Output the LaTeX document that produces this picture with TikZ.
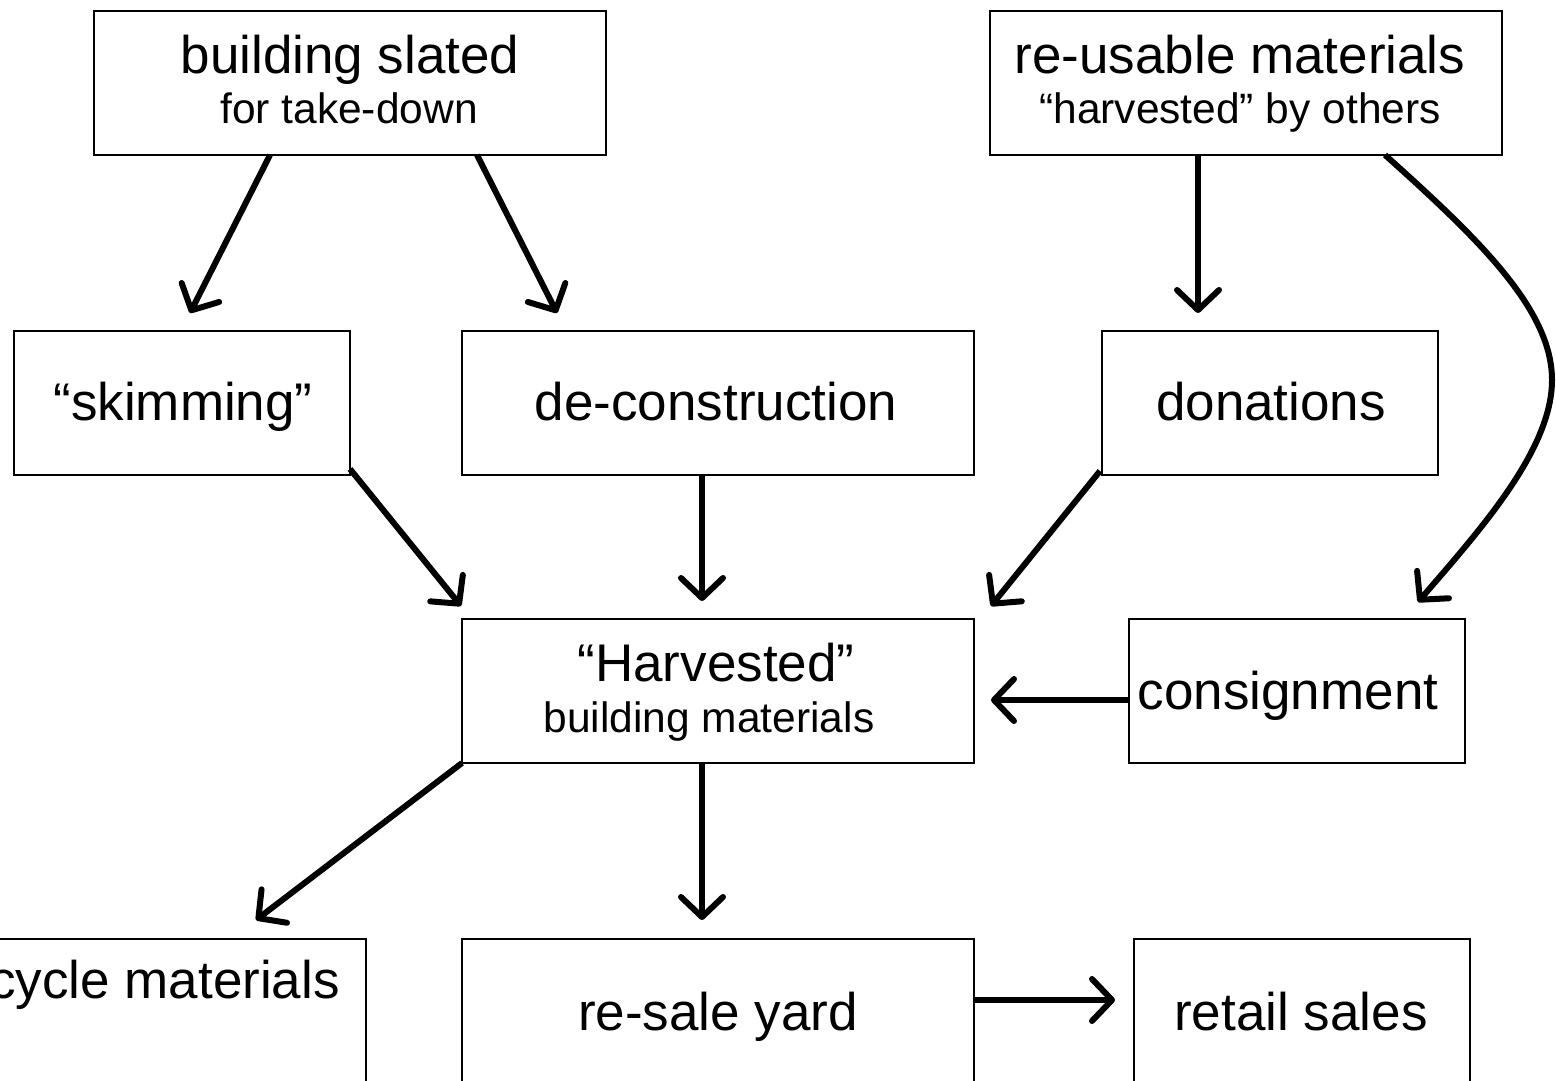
\documentclass[tikz,border=0pt]{standalone}
\usepackage{fontspec}
\setmainfont{Liberation Sans}
\usetikzlibrary{arrows.meta}
\begin{document}
\begin{tikzpicture}[x=1pt,y=-1pt,
  box/.style={draw, line width=2.5pt, minimum width=#1, minimum height=144pt, inner sep=0pt, outer sep=0pt},
  box/.default=336pt,
  tallbox/.style={draw, line width=2.5pt, minimum width=#1, minimum height=200pt, inner sep=0pt, outer sep=0pt},
  big/.style={anchor=base, inner sep=0pt, font=\fontsize{53pt}{60pt}\selectfont},
  small/.style={anchor=base, inner sep=0pt, font=\fontsize{42.5pt}{50pt}\selectfont},
  conn/.style={line width=6pt, -{Straight Barb[length=20pt,width=42pt,round]}}]
\useasboundingbox (0,0) rectangle (1556,1081);
\fill[white] (0,0) rectangle (1556,1081);
\clip (0,0) rectangle (1556,1081);

% boxes
\node[box=512pt] (bs) at (350,83) {};
\node[box=512pt] (ru) at (1246,83) {};
\node[box] (sk) at (182,403) {};
\node[box=512pt] (dc) at (718,403) {};
\node[box] (dn) at (1270,403) {};
\node[box=512pt] (hv) at (718,691) {};
\node[box] (cs) at (1297,691) {};
\node[tallbox=512pt] (rc) at (110,1039) {};
\node[tallbox=512pt] (rs) at (718,1039) {};
\node[tallbox=336pt] (rt) at (1302,1039) {};

% texts
\node[big] (t1a) at (350,74) {building slated};
\node[small] (t1b) at (349,123) {for take-down};
\node[big] (t2a) at (1240,74) {re-usable materials};
\node[small] (t2b) at (1240,123) {“harvested” by others};
\node[big] (t3) at (183,420) {“skimming”};
\node[big] (t4) at (716,420) {de-construction};
\node[big] (t5) at (1271,420) {donations};
\node[big] (t6a) at (716,681) {“Harvested”};
\node[small] (t6b) at (709,732) {building materials};
\node[big] (t7) at (1288,709) {consignment};
\node[big, anchor=base east] (t8) at (340,998) {recycle materials};
\node[big] (t9) at (718,1030) {re-sale yard};
\node[big] (t10) at (1301,1030) {retail sales};

% connectors
\draw[conn] ([xshift=-80pt]bs.south) -- ([xshift=8pt,yshift=18pt]sk.north);
\draw[conn] ([xshift=127pt]bs.south) -- ([xshift=-161pt,yshift=18pt]dc.north);
\draw[conn] ([xshift=-48pt]ru.south) -- ([xshift=-72pt,yshift=18pt]dn.north);
\draw[conn] ([xshift=139pt]ru.south) .. controls (1480,240) and (1552,310) .. (1552,380)
   .. controls (1552,450) and (1480,530) .. ([xshift=121pt,yshift=17pt]cs.north);
\draw[conn] ([yshift=6pt]sk.south east) -- ([xshift=-1pt,yshift=13pt]hv.north west);
\draw[conn] ([xshift=-16pt]dc.south) -- ([xshift=-16pt,yshift=18pt]hv.north);
\draw[conn] ([xshift=-2pt,yshift=4pt]dn.south west) -- ([xshift=17pt,yshift=13pt]hv.north east);
\draw[conn] ([yshift=-9pt]cs.west) -- ([xshift=17pt,yshift=-9pt]hv.east);
\draw[conn] (hv.south west) -- ([xshift=-110pt,yshift=19pt]rc.north east);
\draw[conn] ([xshift=-16pt]hv.south) -- ([xshift=-16pt,yshift=19pt]rs.north);
\draw[conn] ([yshift=39pt]rs.east) -- ([xshift=-19pt,yshift=39pt]rt.west);
\end{tikzpicture}
\end{document}
